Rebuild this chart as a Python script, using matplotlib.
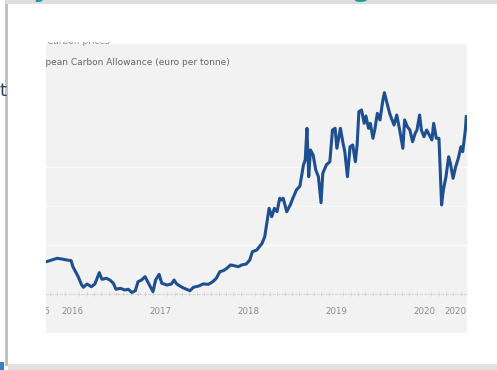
import numpy as np
import matplotlib.pyplot as plt
from matplotlib.patches import Rectangle
from matplotlib.ticker import MultipleLocator

# 画像サイズ（ピクセル）
W, H = 497, 370

# EUA価格（年の小数表記, ユーロ/トン）
years = [2015.71, 2015.77, 2015.83, 2015.88, 2015.94, 2015.99, 2016.01, 2016.07, 2016.11, 2016.13,
         2016.17, 2016.22, 2016.26, 2016.31, 2016.34, 2016.39, 2016.43, 2016.47, 2016.50, 2016.55,
         2016.60, 2016.64, 2016.68, 2016.72, 2016.75, 2016.79, 2016.83, 2016.87, 2016.92, 2016.95,
         2016.99, 2017.02, 2017.08, 2017.13, 2017.16, 2017.19, 2017.25, 2017.30, 2017.34, 2017.38,
         2017.44, 2017.49, 2017.55, 2017.60, 2017.64, 2017.68, 2017.72, 2017.76, 2017.80, 2017.84,
         2017.89, 2017.93, 2017.98, 2018.02, 2018.05, 2018.10, 2018.13, 2018.16, 2018.19, 2018.22,
         2018.24, 2018.27, 2018.30, 2018.33, 2018.36, 2018.38, 2018.40, 2018.44, 2018.48, 2018.51,
         2018.55, 2018.59, 2018.63, 2018.65, 2018.67, 2018.69, 2018.71, 2018.74, 2018.77, 2018.80,
         2018.83, 2018.85, 2018.89, 2018.93, 2018.96, 2018.99, 2019.01, 2019.05, 2019.08, 2019.10,
         2019.13, 2019.16, 2019.19, 2019.22, 2019.24, 2019.26, 2019.29, 2019.32, 2019.34, 2019.37,
         2019.39, 2019.42, 2019.44, 2019.47, 2019.50, 2019.53, 2019.55, 2019.58, 2019.61, 2019.63,
         2019.66, 2019.69, 2019.72, 2019.76, 2019.78, 2019.81, 2019.84, 2019.87, 2019.90, 2019.92,
         2019.95, 2019.97, 2020.00, 2020.03, 2020.06, 2020.09, 2020.11, 2020.14, 2020.17, 2020.18,
         2020.20, 2020.22, 2020.25, 2020.28, 2020.30, 2020.33, 2020.36, 2020.39, 2020.42, 2020.44,
         2020.47, 2020.48]
price = [7.86, 8.08, 8.29, 8.21, 8.08, 7.99, 7.22, 5.94, 4.87, 4.58,
         5.00, 4.65, 5.00, 6.45, 5.60, 5.73, 5.51, 5.09, 4.32, 4.45,
         4.23, 4.32, 3.91, 4.14, 5.29, 5.51, 5.94, 5.09, 4.01, 5.51,
         6.24, 5.09, 4.87, 5.00, 5.51, 5.00, 4.58, 4.32, 4.14, 4.58,
         4.74, 5.00, 4.96, 5.29, 5.73, 6.58, 6.71, 7.01, 7.44, 7.35,
         7.22, 7.44, 7.56, 8.08, 9.14, 9.36, 9.78, 10.22, 11.06, 13.21,
         14.71, 13.63, 14.71, 14.27, 15.99, 15.77, 15.99, 14.27, 15.13, 15.99,
         17.05, 17.56, 20.26, 20.90, 24.96, 18.76, 22.18, 21.54, 19.62, 18.76,
         15.42, 19.19, 20.26, 20.68, 24.74, 24.96, 22.40, 24.96, 23.04, 21.96,
         18.76, 22.60, 22.82, 20.68, 22.82, 27.09, 27.31, 25.60, 26.54, 24.96,
         25.60, 23.68, 24.74, 26.88, 26.03, 28.37, 29.53, 28.17, 26.88, 26.24,
         25.38, 26.67, 24.96, 22.40, 26.03, 25.17, 24.74, 23.24, 24.32, 24.74,
         26.67, 24.74, 23.88, 24.74, 24.10, 23.46, 25.60, 23.68, 23.68, 20.90,
         15.13, 17.05, 18.76, 21.32, 20.47, 18.55, 20.04, 21.12, 22.60, 21.96,
         24.74, 26.45]

# 横軸ラベル（位置は年の小数表記）
tick_pos = [2015.63, 2016, 2017, 2018, 2019, 2020, 2020.36]
tick_txt = ['2015', '2016', '2017', '2018', '2019', '2020', '2020']
grid_vals = [10, 15, 20]


def fx(px):
    return px / W


def fy(py):
    return 1 - py / H


fig = plt.figure(figsize=(W / 100, H / 100), dpi=100)
fig.patch.set_facecolor('white')

# スライドの枠
fig.add_artist(Rectangle((fx(5), fy(4)), 1, 4 / H, transform=fig.transFigure, color='#dedede', lw=0))
fig.add_artist(Rectangle((fx(5), fy(366)), 3 / W, 362 / H, transform=fig.transFigure, color='#c2c2c2', lw=0))
fig.add_artist(Rectangle((fx(8), 0), 1, 6 / H, transform=fig.transFigure, color='#e2e2e2', lw=0))
fig.add_artist(Rectangle((0, 0), fx(4), 8 / H, transform=fig.transFigure, color='#3b7fc4', lw=0))

# 上の見出し（下端だけ見える）
fig.text(fx(33), fy(-4), 'y', fontsize=20, fontweight='bold', color='#1a9aa0', va='baseline')
fig.text(fx(352), fy(-4), 'g', fontsize=20, fontweight='bold', color='#1a9aa0', va='baseline')
fig.text(fx(-1), fy(96), 't', fontsize=13, color='#2e3f63', va='baseline')

# グラフの背景パネル
panel = Rectangle((fx(46), fy(333)), (467 - 46) / W, (333 - 44) / H,
                  transform=fig.transFigure, color='#f2f2f2', lw=0, zorder=0)
fig.add_artist(panel)

top_clip = Rectangle((fx(46), fy(60)), (467 - 46) / W, (60 - 42) / H, transform=fig.transFigure)
t0 = fig.text(fx(47), fy(44.5), 'Carbon prices', fontsize=6.5, color='#8a8a8a', va='baseline')
t0.set_clip_path(top_clip)

title = fig.text(fx(230), fy(65), 'European Carbon Allowance (euro per tonne)',
                 fontsize=6.5, color='#666666', ha='right', va='baseline')
title.set_clip_path(panel)

ax = fig.add_axes([fx(46), fy(293.5), (466.5 - 46) / W, (293.5 - 72) / H])
ax.patch.set_visible(False)

for v in grid_vals:
    ax.axhline(v, color='#fbfbfb', lw=1.0, zorder=0)

ax.plot(years, price, color='#1d4f91', lw=2.2, solid_joinstyle='round', zorder=3)

for s in ['top', 'left', 'right']:
    ax.spines[s].set_visible(False)
ax.spines['bottom'].set_color('#d4d4d4')
ax.spines['bottom'].set_linewidth(0.8)
ax.spines['bottom'].set_linestyle((0, (2, 2)))

ax.set_yticks([])
# 表示範囲の外にある最初のラベルは目盛りにならないので注釈で描く
ax.set_xticks(tick_pos[1:], tick_txt[1:])
ax.xaxis.set_minor_locator(MultipleLocator(1 / 12))
ax.tick_params(axis='x', which='major', length=0, pad=9.5, labelsize=6.2, labelcolor='#8c8c8c')
ax.tick_params(axis='x', which='minor', length=3, width=0.6, color='#d0d0d0', direction='inout')

first = ax.annotate(tick_txt[0], xy=(tick_pos[0], 0), xycoords=ax.get_xaxis_transform(),
                    xytext=(0, -9.5), textcoords='offset points', ha='center', va='top',
                    fontsize=6.2, color='#8c8c8c', annotation_clip=False)
first.set_clip_path(panel)

# 目盛り設定の後で表示範囲を固定する
ax.set_xlim(2015.7045, 2020.483)
ax.set_ylim(3.78, 32.18)

fig.savefig('out.png', dpi=100)
